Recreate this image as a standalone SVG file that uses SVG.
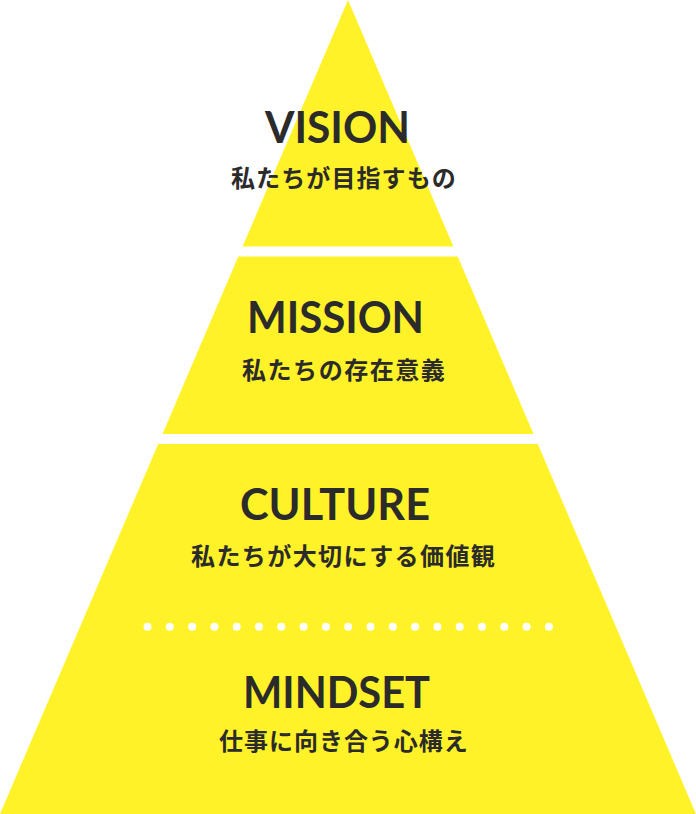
<svg xmlns="http://www.w3.org/2000/svg" width="696" height="814" viewBox="0 0 696 814">
<style>
.band{fill:#fff229;}
.title{font-family:Lato,"Open Sans","Liberation Sans",sans-serif;font-weight:700;font-size:44px;fill:#2b2b2b;}
.sub{font-family:"Noto Sans CJK JP","Noto Sans",sans-serif;font-weight:700;font-size:24px;fill:#2b2b2b;letter-spacing:1.2px;}
.dot{fill:#ffffff;}
</style>
<rect width="696" height="814" fill="#ffffff"/>
<g id="vision">
<polygon class="band" points="348,0 453.4,246.5 242.6,246.5"/>
<text class="title" x="265" y="143" textLength="145" lengthAdjust="spacingAndGlyphs">VISION</text>
<text class="sub" x="231" y="187" textLength="226">私たちが目指すもの</text>
</g>
<g id="mission">
<polygon class="band" points="238.3,256.5 457.7,256.5 533.5,434 162.5,434"/>
<text class="title" x="247" y="333" textLength="177" lengthAdjust="spacingAndGlyphs">MISSION</text>
<text class="sub" x="242" y="379" textLength="204">私たちの存在意義</text>
</g>
<g id="culture">
<polygon class="band" points="158.2,444 537.8,444 696,814 0,814"/>
<text class="title" x="240" y="520" textLength="190" lengthAdjust="spacingAndGlyphs">CULTURE</text>
<text class="sub" x="191" y="565" textLength="305">私たちが大切にする価値観</text>
</g>
<g id="divider">
<circle class="dot" cx="147.5" cy="626.7" r="4"/>
<circle class="dot" cx="169.8" cy="626.7" r="4"/>
<circle class="dot" cx="192.1" cy="626.7" r="4"/>
<circle class="dot" cx="214.4" cy="626.7" r="4"/>
<circle class="dot" cx="236.7" cy="626.7" r="4"/>
<circle class="dot" cx="259.0" cy="626.7" r="4"/>
<circle class="dot" cx="281.3" cy="626.7" r="4"/>
<circle class="dot" cx="303.6" cy="626.7" r="4"/>
<circle class="dot" cx="325.9" cy="626.7" r="4"/>
<circle class="dot" cx="348.2" cy="626.7" r="4"/>
<circle class="dot" cx="370.5" cy="626.7" r="4"/>
<circle class="dot" cx="392.8" cy="626.7" r="4"/>
<circle class="dot" cx="415.1" cy="626.7" r="4"/>
<circle class="dot" cx="437.4" cy="626.7" r="4"/>
<circle class="dot" cx="459.7" cy="626.7" r="4"/>
<circle class="dot" cx="482.0" cy="626.7" r="4"/>
<circle class="dot" cx="504.3" cy="626.7" r="4"/>
<circle class="dot" cx="526.6" cy="626.7" r="4"/>
<circle class="dot" cx="548.9" cy="626.7" r="4"/>
</g>
<g id="mindset">
<text class="title" x="243" y="708" textLength="187" lengthAdjust="spacingAndGlyphs">MINDSET</text>
<text class="sub" x="219" y="750" textLength="250">仕事に向き合う心構え</text>
</g>
<g id="connectors"/>
</svg>
